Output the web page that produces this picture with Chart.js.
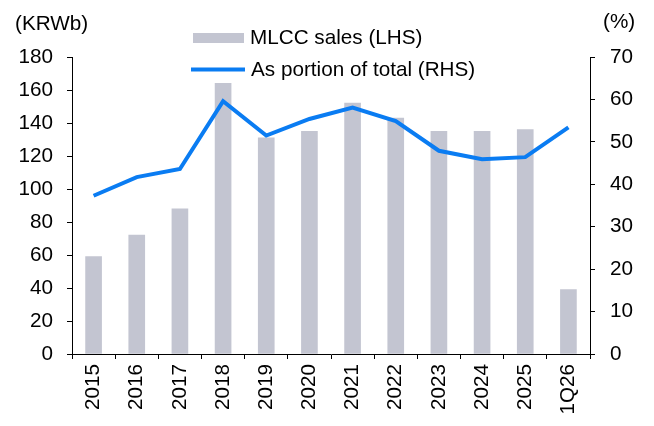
<!DOCTYPE html>
<html>
<head>
<meta charset="utf-8">
<script src="https://cdn.jsdelivr.net/npm/chart.js@4/dist/chart.umd.min.js"></script>
<style>
  html, body { margin: 0; padding: 0; background: #ffffff; }
  #wrap { position: relative; width: 654px; height: 426px; }
</style>
</head>
<body>
<div id="wrap"><canvas id="c" width="654" height="426"></canvas></div>
<script>
// ---- data ----
const categories = ['2015','2016','2017','2018','2019','2020','2021','2022','2023','2024','2025','1Q26'];
const mlccSales = [59, 72, 88, 164, 131, 135, 152, 143, 135, 135, 136, 39];          // KRWb (LHS)
const portionOfTotal = [37.3, 41.7, 43.6, 59.6, 51.5, 55.4, 58.1, 54.9, 47.9, 45.9, 46.4, 53.4]; // % (RHS)
const seriesNames = ['MLCC sales (LHS)', 'As portion of total (RHS)'];
const leftAxisTitle = '(KRWb)';
const rightAxisTitle = '(%)';

const barColor = '#c3c5d1';
const lineColor = '#0a7cf2';
const FONT = '"Liberation Sans", Arial, sans-serif';
const FS = 20.7;

const overlay = {
  id: 'overlay',
  afterDraw(chart) {
    const ctx = chart.ctx;
    ctx.save();
    ctx.font = FS + 'px ' + FONT;
    ctx.fillStyle = '#000';
    ctx.textBaseline = 'middle';
    ctx.textAlign = 'left';
    ctx.fillText(leftAxisTitle, 15, 24);
    ctx.fillText(rightAxisTitle, 603, 22);
    // legend
    ctx.fillStyle = barColor;
    ctx.fillRect(193, 33, 51, 10);
    ctx.fillStyle = '#000';
    ctx.fillText(seriesNames[0], 250, 38);
    ctx.strokeStyle = lineColor;
    ctx.lineWidth = 4;
    ctx.beginPath();
    ctx.moveTo(191, 69.5);
    ctx.lineTo(245, 69.5);
    ctx.stroke();
    ctx.fillText(seriesNames[1], 251, 70);
    ctx.restore();
  }
};

const axisFont = { family: FONT, size: FS };

new Chart(document.getElementById('c'), {
  data: {
    labels: categories,
    datasets: [
      {
        type: 'line',
        label: seriesNames[1],
        data: portionOfTotal,
        yAxisID: 'y1',
        borderColor: lineColor,
        backgroundColor: lineColor,
        borderWidth: 4,
        pointRadius: 0,
        tension: 0,
        order: 0
      },
      {
        type: 'bar',
        label: seriesNames[0],
        data: mlccSales,
        yAxisID: 'y',
        backgroundColor: barColor,
        barThickness: 16,
        order: 1
      }
    ]
  },
  options: {
    responsive: false,
    animation: false,
    layout: { padding: { top: 57, left: 0, right: 0, bottom: 0 } },
    plugins: { legend: { display: false }, tooltip: { enabled: false } },
    scales: {
      x: {
        type: 'category',
        offset: true,
        grid: { display: true, drawOnChartArea: false, drawTicks: true, tickLength: 5, color: '#000', offset: true },
        border: { display: true, color: '#000', width: 1 },
        ticks: { color: '#000', font: axisFont, minRotation: 90, maxRotation: 90, padding: 5, autoSkip: false },
        afterFit(s) { s.height = 72; }
      },
      y: {
        position: 'left',
        min: 0, max: 180,
        ticks: { stepSize: 20, color: '#000', font: axisFont, padding: 14 },
        grid: { drawOnChartArea: false, drawTicks: true, tickLength: 5, color: '#000' },
        border: { display: true, color: '#000', width: 1 },
        afterFit(s) { s.width = 72; }
      },
      y1: {
        position: 'right',
        min: 0, max: 70,
        ticks: { stepSize: 10, color: '#000', font: axisFont, padding: 15 },
        grid: { drawOnChartArea: false, drawTicks: true, tickLength: 5, color: '#000' },
        border: { display: true, color: '#000', width: 1 },
        afterFit(s) { s.width = 64; }
      }
    }
  },
  plugins: [overlay]
});
</script>
</body>
</html>
